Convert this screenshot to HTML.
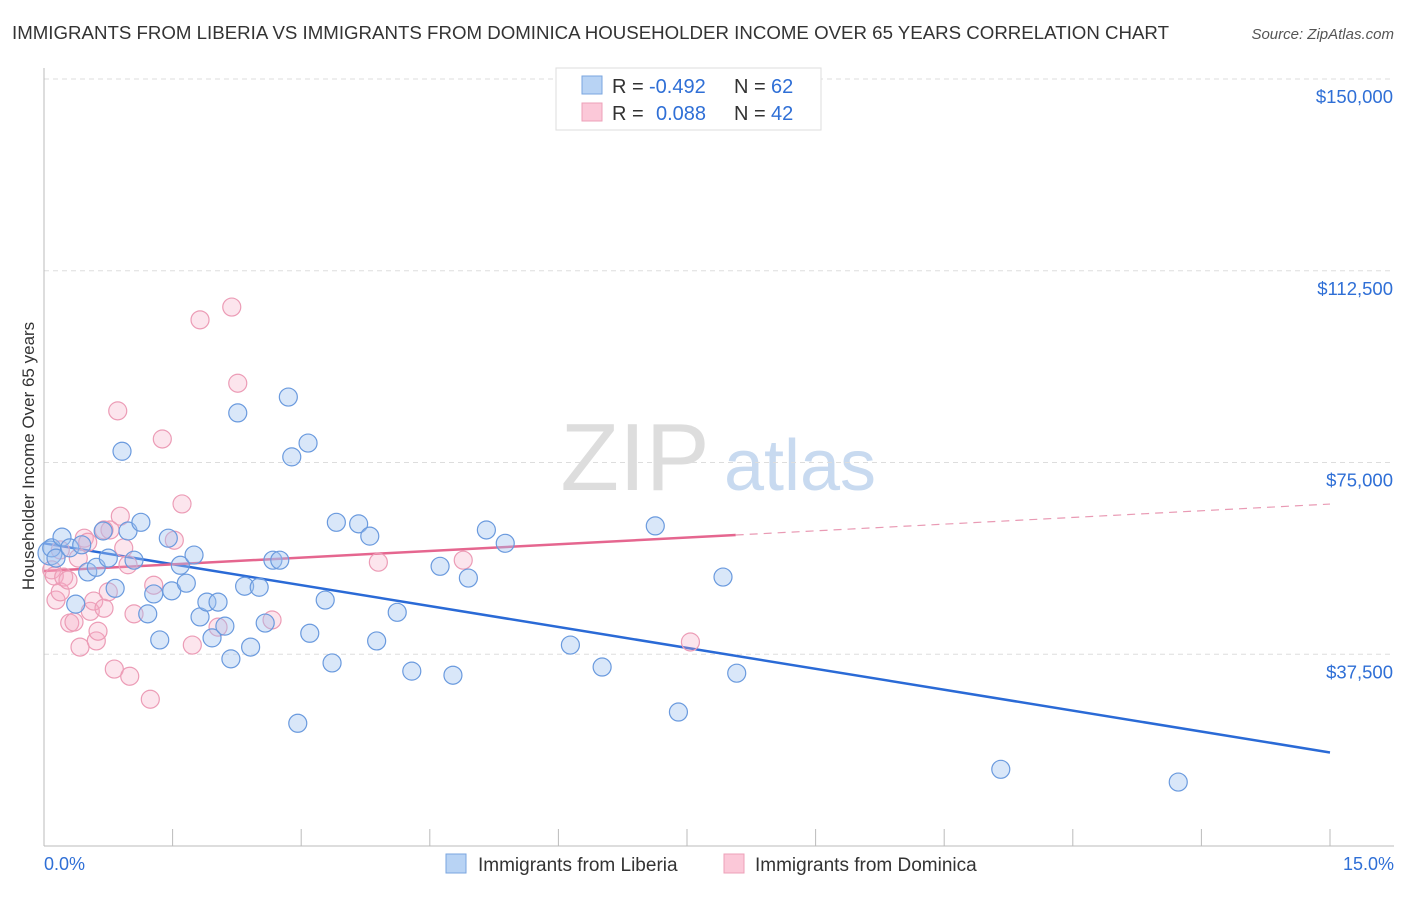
<!DOCTYPE html>
<html><head><meta charset="utf-8"><style>
body{margin:0;background:#fff;font-family:"Liberation Sans",sans-serif;}
svg text{font-family:"Liberation Sans",sans-serif;}
</style></head><body>
<svg id="chart" width="1406" height="892" xmlns="http://www.w3.org/2000/svg">
<text x="12" y="39" font-size="18" fill="#333" textLength="1157" lengthAdjust="spacingAndGlyphs">IMMIGRANTS FROM LIBERIA VS IMMIGRANTS FROM DOMINICA HOUSEHOLDER INCOME OVER 65 YEARS CORRELATION CHART</text>
<text x="1394" y="39" font-size="15" fill="#555" text-anchor="end" font-style="italic">Source: ZipAtlas.com</text>
<text transform="translate(34,456) rotate(-90)" font-size="17" fill="#333" text-anchor="middle">Householder Income Over 65 years</text>
<g><text x="635" y="490" font-size="96" fill="#ddd" font-family="Liberation Serif" text-anchor="middle">ZIP</text><text x="800" y="490" font-size="72" fill="#c8daf0" text-anchor="middle">atlas</text></g>
<g id="grid"></g><g id="axes"></g><g id="trend"></g><g id="pts"></g>
<g>
<rect x="556" y="68" width="265" height="62" fill="#fff" stroke="#ddd"/>
<rect x="582" y="76" width="20" height="18" fill="#b8d3f4" stroke="#7aa6df"/>
<rect x="582" y="103" width="20" height="18" fill="#fbc8d8" stroke="#eea0b8"/>
<text x="612" y="93" font-size="20" fill="#333">R =</text>
<text x="649" y="93" font-size="20" fill="#2f6fd6">-0.492</text>
<text x="734" y="93" font-size="20" fill="#333">N =</text>
<text x="771" y="93" font-size="20" fill="#2f6fd6">62</text>
<text x="612" y="120" font-size="20" fill="#333">R =</text>
<text x="656" y="120" font-size="20" fill="#2f6fd6">0.088</text>
<text x="734" y="120" font-size="20" fill="#333">N =</text>
<text x="771" y="120" font-size="20" fill="#2f6fd6">42</text>
</g>
<g>
<rect x="446" y="854" width="20" height="19" fill="#b8d3f4" stroke="#7aa6df"/>
<text x="478" y="871" font-size="19" fill="#333">Immigrants from Liberia</text>
<rect x="724" y="854" width="20" height="19" fill="#fbc8d8" stroke="#eea0b8"/>
<text x="755" y="871" font-size="19" fill="#333">Immigrants from Dominica</text>
</g>
</svg>
<script>
const yTicks=[37500,75000,112500,150000];
const yTickLabels=["$37,500","$75,000","$112,500","$150,000"];
const xTickLabels=["0.0%","15.0%"];
const blueX=[0.07,0.09,0.14,0.21,0.30,0.44,0.37,0.51,0.61,0.69,0.75,0.83,0.91,0.98,1.05,1.13,1.21,1.28,1.35,1.45,1.49,1.59,1.66,1.75,1.82,1.90,1.96,2.03,2.11,2.18,2.26,2.34,2.41,2.51,2.58,2.67,2.75,2.85,2.89,2.96,3.08,3.10,3.28,3.36,3.41,3.67,3.80,3.88,4.12,4.29,4.62,4.77,4.95,5.16,5.38,6.14,6.51,7.13,7.40,7.92,8.08,11.16,13.23];
const blueY=[57.3,58.3,56.3,60.4,58.3,58.9,47.3,53.6,54.5,61.6,56.3,50.4,77.2,61.6,55.9,63.3,45.4,49.3,40.3,60.2,49.9,54.9,51.4,56.9,44.8,47.7,40.7,47.7,43.0,36.6,84.7,50.8,38.9,50.6,43.6,55.9,55.9,87.8,76.1,24.0,78.8,41.6,48.1,35.8,63.3,63.0,60.6,40.1,45.7,34.2,54.7,33.4,52.4,61.8,59.2,39.3,35.0,62.6,26.2,52.6,33.8,15.0,12.5];
const pinkX=[0.09,0.12,0.14,0.19,0.23,0.28,0.30,0.35,0.40,0.42,0.47,0.51,0.54,0.58,0.61,0.63,0.70,0.75,0.77,0.82,0.86,0.89,0.93,0.98,1.00,1.05,1.24,1.28,1.38,1.52,1.61,1.73,1.82,2.03,2.19,2.26,2.66,3.90,4.89,7.54,0.70,0.19];
const pinkY=[54.0,52.8,48.1,49.7,52.6,52.0,43.6,43.8,56.3,38.9,60.2,59.4,45.9,47.9,40.1,42.0,46.5,49.7,61.8,34.6,85.1,64.5,58.3,55.0,33.2,45.4,28.7,51.0,79.6,59.8,66.9,39.3,102.9,42.8,105.4,90.5,44.2,55.5,55.9,39.9,61.8,57.9];
const NS="http://www.w3.org/2000/svg";
const X=p=>44+p/15*1286, Y=v=>846-v/150000*767;
function mk(t,a,parent){const e=document.createElementNS(NS,t);for(const k in a)e.setAttribute(k,a[k]);parent.appendChild(e);return e;}
const grid=document.getElementById('grid'),axes=document.getElementById('axes');
yTicks.forEach((v,i)=>{
 const l=mk('line',{x1:44,x2:1394,y1:Y(v),y2:Y(v),stroke:'#ddd','stroke-dasharray':'5,4'},grid);
 
 
 const t=mk('text',{x:1393,y:Y(v)+24,'font-size':18.5,fill:'#2f6fd6','text-anchor':'end'},axes);
 t.textContent=yTickLabels[i];
 
 
});
const xa=mk('line',{x1:44,x2:1394,y1:846,y2:846,stroke:'#bbb'},axes);


const ya=mk('line',{x1:44,x2:44,y1:68,y2:846,stroke:'#bbb'},axes);


for(let i=1;i<=10;i++){const tk=mk('line',{x1:X(i*1.5),x2:X(i*1.5),y1:829,y2:846,stroke:'#bbb'},axes);
 
 }
[[0,44,'start'],[15,1394,'end']].forEach((d,i)=>{const t=mk('text',{x:d[1],y:870,'font-size':18,fill:'#2f6fd6','text-anchor':d[2]},axes);t.textContent=xTickLabels[i];
 
 });
function reg(xs,ys){const n=xs.length;let mx=0,my=0;for(let i=0;i<n;i++){mx+=xs[i];my+=ys[i];}mx/=n;my/=n;let a=0,b=0;for(let i=0;i<n;i++){a+=(xs[i]-mx)*(ys[i]-my);b+=(xs[i]-mx)**2;}const s=a/b;return x=>(my+s*(x-mx))*1000;}
const tr=document.getElementById('trend');
const fb=reg(blueX,blueY);
const bl=mk('line',{x1:X(0),y1:Y(fb(0)),x2:X(15),y2:Y(fb(15)),stroke:'#2a6ad6','stroke-width':2.5},tr);


const fp=reg(pinkX,pinkY);const pe=Math.max(...pinkX)*1.07;
const pl=mk('line',{x1:X(0),y1:Y(fp(0)),x2:X(pe),y2:Y(fp(pe)),stroke:'#e5668f','stroke-width':2.5},tr);


const pd=mk('line',{x1:X(pe),y1:Y(fp(pe)),x2:X(15),y2:Y(fp(15)),stroke:'#e99ab4','stroke-width':1.2,'stroke-dasharray':'8,6'},tr);


const pts=document.getElementById('pts');
pinkX.forEach((x,i)=>{const c=mk('circle',{cx:X(x),cy:Y(pinkY[i]*1000),r:9,fill:'rgba(246,168,194,0.3)',stroke:'#ec9cb6','stroke-width':1.2},pts);
 
 });
blueX.forEach((x,i)=>{const c=mk('circle',{cx:X(x),cy:Y(blueY[i]*1000),r:i==0?12:9,fill:'rgba(160,196,240,0.4)',stroke:'#6a9ade','stroke-width':1.2},pts);
 
 });
</script>
</body></html>
